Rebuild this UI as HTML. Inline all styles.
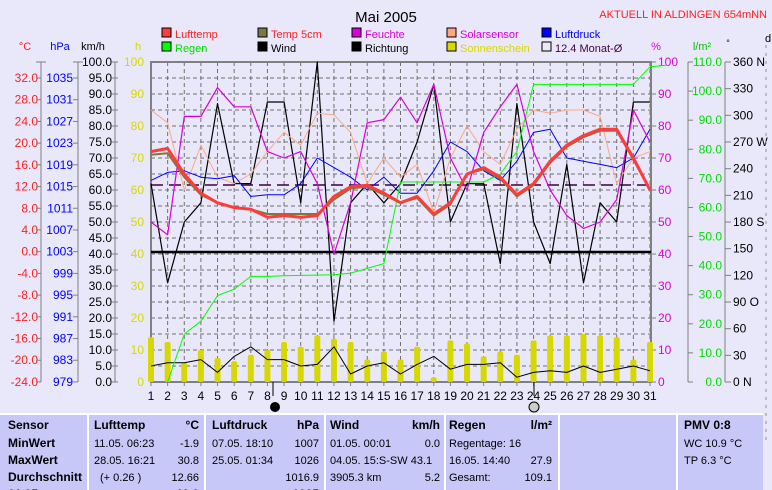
<!DOCTYPE html>
<html><head><meta charset="utf-8"><style>
html,body{margin:0;padding:0;background:#e8e8fa;width:772px;height:490px;overflow:hidden;font-family:"Liberation Sans",sans-serif}
svg{position:absolute;left:0;top:0}
text{font-family:"Liberation Sans",sans-serif}
</style></head><body>
<svg id="s" width="772" height="490" xmlns="http://www.w3.org/2000/svg"></svg>
<script>
const S=document.getElementById('s');let h='';
const X=d=>151+(d-1)*16.633, Y=v=>382-v*3.2;
function T(x,y,t,c,a,sz,w){h+=`<text x="${x}" y="${y}" fill="${c}" font-size="${sz||12}" text-anchor="${a||'start'}" ${w?'font-weight="bold"':''}>${t}</text>`;}
function L(x1,y1,x2,y2,c,w,d){h+=`<line x1="${x1}" y1="${y1}" x2="${x2}" y2="${y2}" stroke="${c}" stroke-width="${w||1}" ${d?`stroke-dasharray="${d}"`:''}/>`;}
function P(arr,c,w,st){let p=arr.map((v,i)=>`${(st?X(i+st):X(i+1)).toFixed(1)},${Y(v).toFixed(1)}`).join(' ');h+=`<polyline points="${p}" fill="none" stroke="${c}" stroke-width="${w}" stroke-linejoin="round"/>`;}
T(386,22,'Mai 2005','#000','middle',15);
T(767,18,'AKTUELL IN ALDINGEN 654mNN','#ff2020','end',11);
const lg=[[162,38,'#ff3b3b','Lufttemp','#ff2020'],[258,38,'#7a7a40','Temp 5cm','#ff2020'],[352,38,'#d800d8','Feuchte','#d800d8'],[447,38,'#ffa880','Solarsensor','#d800d8'],[542,38,'#0000ff','Luftdruck','#0000ff'],
[162,52,'#00ff00','Regen','#00e000'],[258,52,'#000','Wind','#000'],[352,52,'#000','Richtung','#000'],[447,52,'#d8d800','Sonnenschein','#d8d800'],[542,52,'none','12.4 Monat-Ø','#400040']];
lg.forEach(l=>{h+=`<rect x="${l[0]}" y="${l[1]-10}" width="9" height="9" fill="${l[2]}" stroke="#000"/>`;T(l[0]+13,l[1],l[3],l[4],'start',11);});
T(25,50,'°C','#ff2020','middle',11);T(60,50,'hPa','#0000ff','middle',11);T(93,50,'km/h','#000','middle',11);T(138,50,'h','#d8d800','middle',11);
T(656,50,'%','#d800d8','middle',11);T(702,50,'l/m²','#00c000','middle',11);T(728,46,'°','#000','middle',9);T(768,42,'d','#000','middle',11);
for(let d=1;d<=31;d++)L(X(d),62,X(d),382,'#707070',1,'4,3');
for(let v=5;v<100;v+=5)L(151,Y(v),651,Y(v),'#707070',1,'4,3');
L(41,62,41,382,'#808080');L(78,62,78,382,'#808080');L(115,62,115,382,'#808080');
for(let i=0;i<15;i++){let y=78+i*21.71;T(38,y+4,(32-4*i).toFixed(1),'#ff2020','end',12);L(36,y,41,y,'#808080');T(73,y+4,1035-4*i,'#0000ff','end',12);L(73,y,78,y,'#808080');}
L(36,62,46,62,'#808080');L(73,62,83,62,'#808080');
for(let i=0;i<=20;i++){let y=62+i*16;T(112,y+4,(100-5*i).toFixed(1),'#000','end',12);L(112,y,118,y,'#808080');}
for(let i=0;i<=10;i++){let y=62+i*32;T(144,y+4,100-10*i,'#d8d800','end',12);}
L(688,62,688,382,'#808080');L(725,62,725,382,'#808080');
for(let i=0;i<=10;i++){let y=62+i*32;L(651,y,656,y,'#808080');T(658,y+4,100-10*i,'#d800d8','start',12);}
for(let i=0;i<=11;i++){let y=62+i*29.09;L(688,y,693,y,'#808080');T(722,y+4,(110-10*i).toFixed(1),'#00e000','end',12);}
const dl={0:'N',90:'O',180:'S',270:'W',360:'N'};
for(let i=0;i<=12;i++){let y=62+i*26.67,v=360-30*i;L(725,y,731,y,'#808080');T(733,y+4,v+(dl[v]?' '+dl[v]:''),'#000','start',12);}
L(766,45,766,440,'#909090',1,'3,5');
h+=`<rect x="151" y="62" width="500" height="320" fill="none" stroke="#808080" stroke-width="2"/>`;
for(let d=1;d<=31;d++){L(X(d),382,X(d),386,'#808080');T(X(d),400,d,'#000','middle',12);}
L(273,382,273,396,'#000');L(534,382,534,396,'#000');
h+=`<circle cx="275" cy="407" r="5" fill="#000"/><circle cx="534" cy="407" r="5" fill="#ccc" stroke="#000"/>`;
const sun=[14,12.5,6,10,7.5,6.5,8.5,10,12.5,11,14.5,13.5,12.5,7,9.5,7,11,1.5,13,12,8,9.5,8.5,13,14.5,14.5,15,14.5,14,7,12.5];
sun.forEach((v,i)=>h+=`<rect x="${X(i+1)-3}" y="${Y(v)}" width="6" height="${v*3.2}" rx="2" fill="#d8d800"/>`);
L(151,185,651,185,'#400040',1.5,'12,6');L(151,252,651,252,'#000',2.5);
P([62,31,50,56,87,62,62,87.5,87.5,56,100,19,56,62,56,62,75,93,50,62,62,37,87,50,37,68,31,56,50,87.5,87.5],'#000',1.2);
P([5,6,6,7,3,8,11,7,7,5,5.5,11,2.5,5,6,2.5,5.5,8,4,5.5,5.5,6,1.5,3,3.5,3,5,3,4,5,3.5],'#000',1);
P([85,81,60,74,64,62,65,72,78,74,84,83.5,78,62,70,64,68,53,70,80,72,68,79,85,84,85,85,83,62,70,72],'#ffa880',1);
P([63,65.5,66,64,63.5,64.5,58,58.5,58.5,62,70,67,64,60,64,59,59,66,75,72,66,63,69,78,79,70,69,68,67,70,79],'#0000ff',1);
P([0,15,19,27,29,33,33,33.2,33.3,33.4,33.5,34,35.5,37,62.5,62.5,62.5,62.5,62.5,62.5,65,72,93,93,93,93,93,93,93,98.5,99],'#00ff00',1,2);
P([50,46,83,83,92,86,86,72,70,72,62,40,56,81,82,89,81,93,70,60,78,86,93,72,60,52,48,50,57,85,75],'#d800d8',1.2);
P([71,71.5,64,58.5,56,54.5,54,52.5,52.5,52.5,52.5,57,60.5,61,58.5,56,57.5,52,55.5,65,66.5,63.5,58,61.5,68.5,73.5,76.5,78.5,78.5,69.5,60],'#7a7a40',2);
P([72,73,65,59,56,54.5,54,51.5,52,51.5,52,58,61,61.5,59,56,58,52.5,56,65,67,64,58.5,62,69,74,77,79,79,70,60],'#ff3b3b',3);
h+=`<rect x="0" y="414" width="763" height="76" fill="#c8c8f8"/>`;
[88,205,325,445,559,677].forEach(x=>L(x,414,x,490,'#fff',2));L(0,414,763,414,'#fff',2);
const r=[429,447,464,481,498];
T(8,r[0],'Sensor','#000','start',12,1);T(8,r[1],'MinWert','#000','start',12,1);T(8,r[2],'MaxWert','#000','start',12,1);T(8,r[3],'Durchschnitt','#000','start',12,1);T(8,r[4],'01.05.','#000','start',12,1);
T(94,r[0],'Lufttemp','#000','start',12,1);T(199,r[0],'°C','#000','end',12,1);
T(94,r[1],'11.05.  06:23','#000','start',11);T(199,r[1],'-1.9','#000','end',11);
T(94,r[2],'28.05.  16:21','#000','start',11);T(199,r[2],'30.8','#000','end',11);
T(100,r[3],'(+ 0.26 )','#000','start',11);T(199,r[3],'12.66','#000','end',11);T(199,r[4],'11.0','#000','end',12,1);
T(212,r[0],'Luftdruck','#000','start',12,1);T(319,r[0],'hPa','#000','end',12,1);
T(212,r[1],'07.05.  18:10','#000','start',11);T(319,r[1],'1007','#000','end',11);
T(212,r[2],'25.05.  01:34','#000','start',11);T(319,r[2],'1026','#000','end',11);
T(319,r[3],'1016.9','#000','end',11);T(319,r[4],'1025','#000','end',12,1);
T(330,r[0],'Wind','#000','start',12,1);T(440,r[0],'km/h','#000','end',12,1);
T(330,r[1],'01.05.  00:01','#000','start',11);T(440,r[1],'0.0','#000','end',11);
T(330,r[2],'04.05.  15:S-SW 43.1','#000','start',11);
T(330,r[3],'3905.3 km','#000','start',11);T(440,r[3],'5.2','#000','end',11);
T(449,r[0],'Regen','#000','start',12,1);T(552,r[0],'l/m²','#000','end',12,1);
T(449,r[1],'Regentage: 16','#000','start',11);
T(449,r[2],'16.05.  14:40','#000','start',11);T(552,r[2],'27.9','#000','end',11);
T(449,r[3],'Gesamt:','#000','start',11);T(552,r[3],'109.1','#000','end',11);
T(684,r[0],'PMV 0:8','#000','start',12,1);T(684,r[1],'WC 10.9 °C','#000','start',11);T(684,r[2],'TP 6.3 °C','#000','start',11);
S.innerHTML=h;
</script>
</body></html>
